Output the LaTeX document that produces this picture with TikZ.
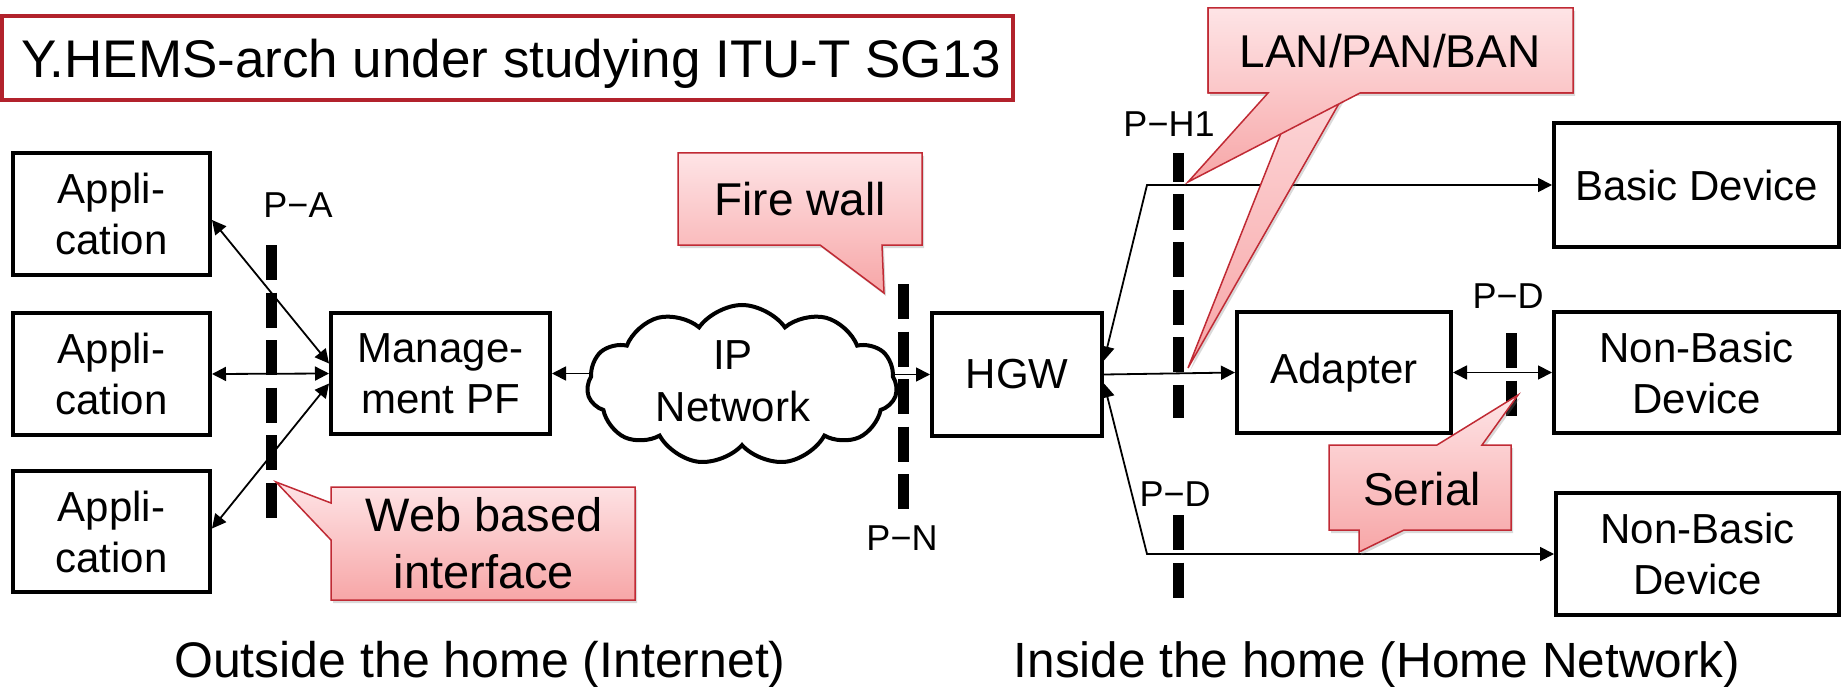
\documentclass[tikz,border=0pt]{standalone}
\usepackage{fontspec}
\setmainfont{Liberation Sans}
\usetikzlibrary{arrows.meta,shapes.symbols,shadows,calc}
\pgfdeclarelayer{bg}
\pgfsetlayers{bg,main}
\definecolor{cborder}{RGB}{192,42,52}
\definecolor{ctop}{RGB}{254,228,230}
\definecolor{cbot}{RGB}{247,166,167}
\definecolor{tborder}{RGB}{178,34,44}
\begin{document}
\begin{tikzpicture}[x=1pt,y=-1pt,
  >={Triangle[length=14pt,width=14pt]},
  box/.style={draw, line width=4pt, fill=white, inner sep=0pt, align=center, font=\fontsize{42}{51}\selectfont},
  conn/.style={line width=1.8pt},
  plab/.style={font=\fontsize{36}{40}\selectfont, anchor=base, inner sep=0pt},
  ctext/.style={font=\fontsize{46}{56}\selectfont, inner sep=0pt, align=center},
  callout/.style={draw=cborder, line width=1.5pt, top color=ctop, bottom color=cbot, drop shadow={shadow xshift=2pt,shadow yshift=-3pt,opacity=0.3}},
  calloutns/.style={draw=cborder, line width=1.5pt, top color=ctop, bottom color=cbot},
  pline/.style={line width=11pt, dash pattern=on 35pt off 12.5pt},
]
\useasboundingbox (0,0) rectangle (1843,687);

% title
\node[draw=tborder, line width=4pt, minimum width=1011pt, minimum height=84pt, inner sep=0pt] (title) at (507.5,58) {};
\node[anchor=base west, inner sep=0pt, font=\fontsize{53}{60}\selectfont] (titletext) at (21,78) {Y.HEMS-arch under studying ITU-T SG13};

% boxes
\node[box, minimum width=197pt, minimum height=122pt] (app1) at (111.5,214) {Appli-\\cation};
\node[box, minimum width=197pt, minimum height=122pt] (app2) at (111.5,374) {Appli-\\cation};
\node[box, minimum width=197pt, minimum height=121pt] (app3) at (111.5,531.5) {Appli-\\cation};
\node[box, minimum width=219pt, minimum height=121pt] (mgmt) at (440.5,373.5) {Manage-\\ment PF};
\node[box, minimum width=170pt, minimum height=123pt] (hgw) at (1017,374.5) {HGW};
\node[box, minimum width=285pt, minimum height=124pt] (basic) at (1696.5,185) {Basic Device};
\node[box, minimum width=214pt, minimum height=121pt] (adapter) at (1344,372.5) {Adapter};
\node[box, minimum width=285pt, minimum height=121pt] (nb1) at (1696.5,372.5) {Non-Basic\\Device};
\node[box, minimum width=283pt, minimum height=122pt] (nb2) at (1697.5,554) {Non-Basic\\Device};

% cloud
\node[cloud, draw, line width=4pt, fill=white, cloud puffs=11, cloud puff arc=110, aspect=1.94, minimum width=310pt, minimum height=160pt, inner sep=0pt] (cloud) at (742,385) {};
\node[font=\fontsize{42}{52}\selectfont, align=center, inner sep=0pt] (iptext) at (733,381) {IP\\Network};

% connectors
\coordinate (k1) at (1147,185);
\coordinate (k2) at (1147,554);
\begin{pgfonlayer}{bg}
\draw[conn,<->] ([yshift=-6pt]app1.east) -- ([yshift=10pt]mgmt.west);
\draw[conn,<->] (app2.east) -- (mgmt.west);
\draw[conn,<->] ([yshift=3pt]app3.east) -- ([yshift=-10pt]mgmt.west);
\draw[conn,->] (cloud.center |- mgmt.east) -- (mgmt.east);
\draw[conn,->] (cloud.center |- hgw.west) -- (hgw.west);
\draw[conn,<->] ([yshift=14pt]hgw.east) -- (k1) -- (basic.west);
\draw[conn,->] (hgw.east) -- (adapter.west);
\draw[conn,<->] ([yshift=-9pt]hgw.east) -- (k2) -- (nb2.west);
\draw[conn,<->] (adapter.east) -- (nb1.west);
\end{pgfonlayer}

% dashed reference points
\coordinate (pa1) at (271,245); \coordinate (pa2) at (271,520);
\coordinate (pn1) at (903,284); \coordinate (pn2) at (903,512);
\coordinate (ph1) at (1178,153); \coordinate (ph2) at (1178,418);
\coordinate (pd1) at (1178,515); \coordinate (pd2) at (1178,598);
\coordinate (pe1) at (1511,333); \coordinate (pe2) at (1511,417);
\draw[pline] (pa1) -- (pa2);
\draw[pline] (pn1) -- (pn2);
\draw[pline, dash phase=6pt] (ph1) -- (ph2);
\draw[pline] (pd1) -- (pd2);
\draw[pline] (pe1) -- (pe2);

% labels
\node[plab] (lpa) at (298,218) {P−A};
\node[plab] (lpn) at (902,550) {P−N};
\node[plab] (lph) at (1169,137) {P−H1};
\node[plab] (lpd1) at (1508,308) {P−D};
\node[plab] (lpd2) at (1175,506) {P−D};

% callouts
\draw[callout] (678,153) -- (922,153) -- (922,245) -- (882,245) -- (884,293) -- (820,245) -- (678,245) -- cycle;
\node[ctext, anchor=base] (fw) at (800,215) {Fire wall};

\draw[callout] (1208,8) -- (1573,8) -- (1573,93) -- (1345,93) -- (1188,368) -- (1297,93) -- (1208,93) -- cycle;
\draw[calloutns] (1208,8) -- (1573,8) -- (1573,93) -- (1360,93) -- (1188,182) -- (1268,93) -- (1208,93) -- cycle;
\node[ctext, anchor=base] (lan) at (1390,68) {LAN/PAN/BAN};

\draw[callout] (1329,445) -- (1437,445) -- (1518,395) -- (1482,445) -- (1511,445) -- (1511,530) -- (1404,530) -- (1359,552) -- (1359,530) -- (1329,530) -- cycle;
\node[ctext, anchor=base] (serial) at (1422,505) {Serial};

\draw[callout] (331,487) -- (635,487) -- (635,600) -- (331,600) -- (331,540) -- (276,482) -- (331,503) -- cycle;
\node[ctext, font=\fontsize{47}{57}\selectfont] (web) at (484,543) {Web based\\interface};

% bottom captions
\node[anchor=base, inner sep=0pt, font=\fontsize{50}{60}\selectfont] (outside) at (480,677) {Outside the home (Internet)};
\node[anchor=base, inner sep=0pt, font=\fontsize{49.5}{60}\selectfont] (inside) at (1377,677) {Inside the home (Home Network)};
\end{tikzpicture}
\end{document}
